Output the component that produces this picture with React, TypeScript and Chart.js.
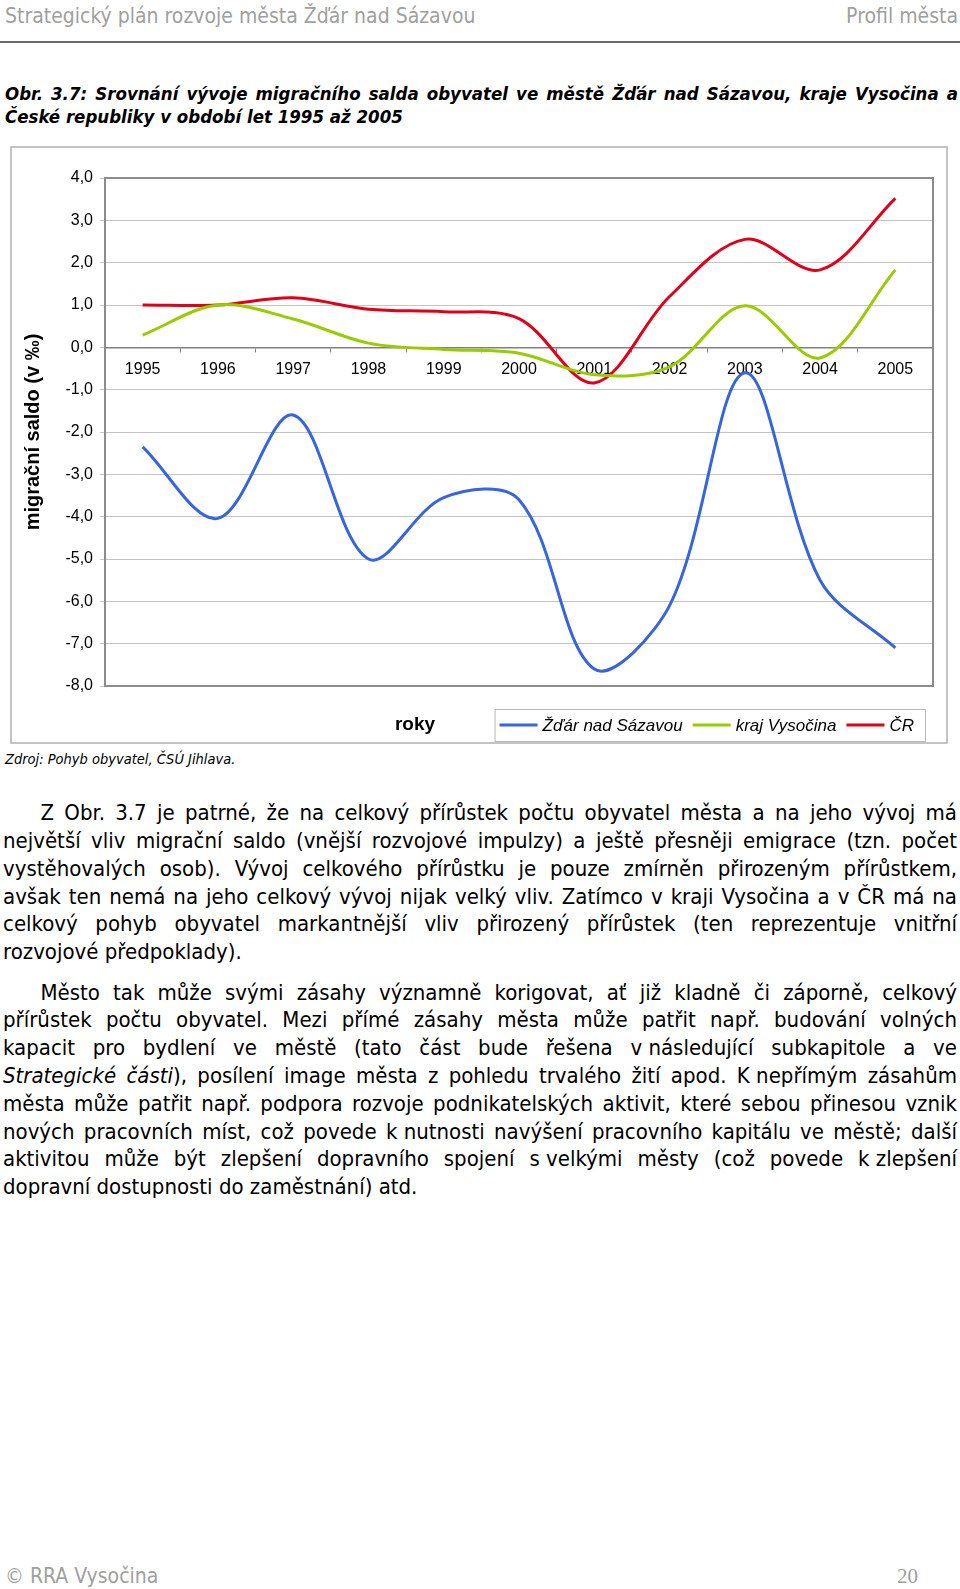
import React, { useEffect, useRef } from 'react';
import { Chart, registerables } from 'chart.js';

Chart.register(...registerables);

// ---- chart data ----
const years = ['1995', '1996', '1997', '1998', '1999', '2000', '2001', '2002', '2003', '2004', '2005'];
const zdarNadSazavou = [-2.35, -4.04, -1.6, -5.0, -3.55, -3.6, -7.6, -6.1, -0.6, -5.5, -7.1];
const krajVysocina = [0.29, 1.0, 0.67, 0.1, -0.05, -0.14, -0.65, -0.46, 0.98, -0.25, 1.83];
const ceskaRepublika = [1.0, 1.0, 1.17, 0.9, 0.84, 0.68, -0.84, 1.2, 2.55, 1.83, 3.52];
const seriesLabels = ['Žďár nad Sázavou', 'kraj Vysočina', 'ČR'];
const seriesColors = ['#3864DC', '#99CC00', '#E1001A'];
const yTickValues = [4, 3, 2, 1, 0, -1, -2, -3, -4, -5, -6, -7, -8];
const yTickLabels = ['4,0', '3,0', '2,0', '1,0', '0,0', '-1,0', '-2,0', '-3,0', '-4,0', '-5,0', '-6,0', '-7,0', '-8,0'];
const yAxisTitle = 'migrační saldo (v ‰)';
const xAxisTitle = 'roky';

// ---- page text ----
const headerLeft = 'Strategický plán rozvoje města Žďár nad Sázavou';
const headerRight = 'Profil města';
const titleLines = [
  'Obr. 3.7: Srovnání vývoje migračního salda obyvatel ve městě Žďár nad Sázavou, kraje Vysočina a',
  'České republiky v období let 1995 až 2005',
];
const sourceText = 'Zdroj: Pohyb obyvatel, ČSÚ Jihlava.';

const tight = (s: string) => <span style={{ display: 'inline-block' }}>{s}</span>;

const para1: React.ReactNode[] = [
  'Z Obr. 3.7 je patrné, že na celkový přírůstek počtu obyvatel města a na jeho vývoj má',
  'největší vliv migrační saldo (vnější rozvojové impulzy) a ještě přesněji emigrace (tzn. počet',
  'vystěhovalých osob). Vývoj celkového přírůstku je pouze zmírněn přirozeným přírůstkem,',
  'avšak ten nemá na jeho celkový vývoj nijak velký vliv. Zatímco v kraji Vysočina a v ČR má na',
  'celkový pohyb obyvatel markantnější vliv přirozený přírůstek (ten reprezentuje vnitřní',
  'rozvojové předpoklady).',
];
const para2: React.ReactNode[] = [
  'Město tak může svými zásahy významně korigovat, ať již kladně či záporně, celkový',
  'přírůstek počtu obyvatel. Mezi přímé zásahy města může patřit např. budování volných',
  <>kapacit pro bydlení ve městě (tato část bude řešena {tight('v\u00a0následující')} subkapitole a ve</>,
  <><i>Strategické části</i>), posílení image města z pohledu trvalého žití apod. {tight('K\u00a0nepřímým')} zásahům</>,
  'města může patřit např. podpora rozvoje podnikatelských aktivit, které sebou přinesou vznik',
  <>nových pracovních míst, což povede {tight('k\u00a0nutnosti')} navýšení pracovního kapitálu ve městě; další</>,
  <>aktivitou může být zlepšení dopravního spojení {tight('s\u00a0velkými')} městy (což povede {tight('k\u00a0zlepšení')}</>,
  'dopravní dostupnosti do zaměstnání) atd.',
];

const bodyFont = '"DejaVu Sans Condensed", "DejaVu Sans", sans-serif';
const chartFont = '"Liberation Sans", Arial, sans-serif';

const decorPlugin = {
  id: 'decor',
  beforeDatasetsDraw(chart: any) {
    const { ctx, chartArea: a } = chart;
    ctx.save();
    ctx.strokeStyle = '#8c8c8c';
    ctx.lineWidth = 2;
    ctx.strokeRect(a.left, a.top, a.right - a.left, a.bottom - a.top);
    ctx.restore();
  },
  afterDraw(chart: any) {
    const { ctx } = chart;
    ctx.save();
    // outer chart frame
    ctx.strokeStyle = '#b0b0b0';
    ctx.lineWidth = 1.5;
    ctx.strokeRect(1, 1, chart.width - 2, chart.height - 2);
    // x axis title
    ctx.fillStyle = '#000';
    ctx.font = `bold 19px ${chartFont}`;
    ctx.textAlign = 'center';
    ctx.textBaseline = 'middle';
    ctx.fillText(xAxisTitle, 405, 579);
    // legend
    ctx.font = `italic 17px ${chartFont}`;
    const ds = chart.data.datasets;
    const lineW = 38, gap = 5, itemGap = 10, padL = 5, padR = 11;
    const widths = ds.map((d: any) => ctx.measureText(d.label).width);
    const total = widths.reduce((s: number, w: number) => s + lineW + gap + w, 0) + itemGap * (ds.length - 1);
    const boxRight = chart.width - 23;
    const boxLeft = boxRight - padR - total - padL;
    const cy = 579;
    ctx.strokeStyle = '#b8b8b8';
    ctx.lineWidth = 1;
    ctx.strokeRect(boxLeft + 0.5, 563.5, boxRight - boxLeft, 32);
    let x = boxLeft + padL;
    ds.forEach((d: any, i: number) => {
      ctx.strokeStyle = d.borderColor;
      ctx.lineWidth = 3;
      ctx.beginPath();
      ctx.moveTo(x, cy);
      ctx.lineTo(x + lineW, cy);
      ctx.stroke();
      x += lineW + gap;
      ctx.fillStyle = '#000';
      ctx.textAlign = 'left';
      ctx.fillText(d.label, x, cy + 1);
      x += widths[i] + itemGap;
    });
    ctx.restore();
  },
};

function MigrationChart() {
  const ref = useRef<HTMLCanvasElement | null>(null);
  useEffect(() => {
    if (!ref.current) return;
    const seriesData = [zdarNadSazavou, krajVysocina, ceskaRepublika];
    const chart = new Chart(ref.current, {
      type: 'line',
      data: {
        labels: years,
        datasets: seriesLabels.map((label, i) => ({
          label,
          data: seriesData[i],
          borderColor: seriesColors[i],
          backgroundColor: seriesColors[i],
          borderWidth: 3,
          pointRadius: 0,
          pointHoverRadius: 0,
          tension: 0.34,
          fill: false,
          borderJoinStyle: 'round' as const,
        })),
      },
      options: {
        responsive: false,
        animation: false,
        events: [],
        layout: { padding: { left: 10, right: 15, top: 32, bottom: 58 } },
        font: { family: chartFont },
        plugins: {
          legend: { display: false },
          tooltip: { enabled: false },
        },
        scales: {
          x: {
            type: 'category',
            position: { y: 0 } as any,
            offset: true,
            grid: {
              drawOnChartArea: false,
              drawTicks: true,
              tickLength: 4,
              offset: true,
              color: '#808080',
              lineWidth: 1,
            },
            border: { display: true, color: '#808080', width: 1.5 },
            ticks: {
              padding: 9,
              color: '#000',
              font: { size: 16, family: chartFont },
              maxRotation: 0,
              autoSkip: false,
            },
          },
          y: {
            min: -8,
            max: 4,
            afterBuildTicks: (scale: any) => {
              scale.ticks = yTickValues.map((v) => ({ value: v }));
            },
            afterFit: (scale: any) => {
              scale.width = 85;
            },
            grid: { color: '#c4c4c4', lineWidth: 1, tickLength: 5 },
            border: { display: false },
            ticks: {
              padding: 7,
              color: '#000',
              font: { size: 16, family: chartFont },
              callback: (v: any) => yTickLabels[yTickValues.indexOf(Number(v))] ?? '',
            },
            title: {
              display: true,
              text: yAxisTitle,
              color: '#000',
              font: { size: 20, weight: 'bold', family: chartFont },
              padding: { top: 1, bottom: 0 },
            },
          },
        },
      },
      plugins: [decorPlugin],
    });
    return () => chart.destroy();
  }, []);
  return (
    <canvas
      ref={ref}
      width={938}
      height={598}
      style={{ position: 'absolute', left: 10, top: 146, width: 938, height: 598 }}
    />
  );
}

function ParaLines({ lines, top }: { lines: React.ReactNode[]; top: number }) {
  const lh = 27.8;
  return (
    <>
      {lines.map((ln, i) => {
        const last = i === lines.length - 1;
        const indent = i === 0 ? 37.5 : 0;
        return (
          <div
            key={i}
            style={{
              position: 'absolute',
              left: 3 + indent,
              width: 954 - indent,
              top: top + i * lh,
              height: lh,
              lineHeight: `${lh}px`,
              fontSize: 22,
              textAlign: last ? 'left' : 'justify',
              textAlignLast: last ? 'left' : 'justify',
              color: '#000',
            } as React.CSSProperties}
          >
            {ln}
          </div>
        );
      })}
    </>
  );
}

export default function App() {
  return (
    <div
      style={{
        position: 'absolute',
        left: 0,
        top: 0,
        width: 960,
        height: 1589,
        background: '#fff',
        overflow: 'hidden',
        fontFamily: bodyFont,
        fontStretch: 'condensed',
      }}
    >
      <div style={{ position: 'absolute', left: 5, top: 4, fontSize: 21, lineHeight: '24px', color: '#a0a0a0', whiteSpace: 'nowrap' }}>
        {headerLeft}
      </div>
      <div style={{ position: 'absolute', right: 2, top: 4, fontSize: 21, lineHeight: '24px', color: '#a0a0a0', whiteSpace: 'nowrap' }}>
        {headerRight}
      </div>
      <div style={{ position: 'absolute', left: 0, top: 40.5, width: 960, height: 2, background: '#6a6a6a' }} />

      <div
        style={{
          position: 'absolute',
          left: 5,
          top: 81.5,
          width: 953,
          fontSize: 18.5,
          lineHeight: '23px',
          fontWeight: 'bold',
          fontStyle: 'italic',
          color: '#000',
        }}
      >
        <div style={{ textAlign: 'justify', textAlignLast: 'justify' } as React.CSSProperties}>{titleLines[0]}</div>
        <div>{titleLines[1]}</div>
      </div>

      <MigrationChart />

      <div style={{ position: 'absolute', left: 5, top: 750, fontSize: 14.5, lineHeight: '18px', fontStyle: 'italic', color: '#000', whiteSpace: 'nowrap' }}>
        {sourceText}
      </div>

      <ParaLines lines={para1} top={799.1} />
      <ParaLines lines={para2} top={978.5} />

      <div style={{ position: 'absolute', left: 5, top: 1564, fontSize: 21, lineHeight: '24px', color: '#a0a0a0', whiteSpace: 'nowrap' }}>
        © RRA Vysočina
      </div>
      <div style={{ position: 'absolute', left: 897, top: 1564, fontSize: 21, lineHeight: '24px', color: '#a0a0a0', fontFamily: '"Liberation Serif", serif' }}>
        20
      </div>
    </div>
  );
}
